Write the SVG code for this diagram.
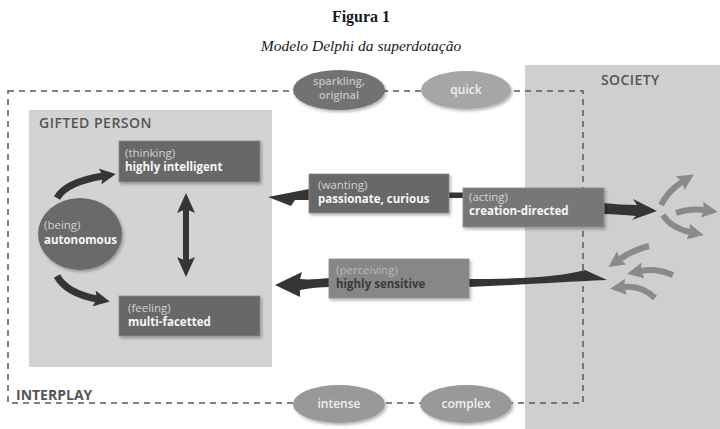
<svg xmlns="http://www.w3.org/2000/svg" width="720" height="429" viewBox="0 0 720 429">
<defs>
<style>
.ttl{font-family:"Liberation Serif",serif;fill:#1a1a1a}
.hdr{font-family:"Open Sans","DejaVu Sans",sans-serif;font-weight:600;fill:#555;font-size:14px}
.box{fill:#686868;stroke:#8c8c8c;stroke-width:0.8;filter:url(#sh)}
.p{font-family:"Open Sans","DejaVu Sans",sans-serif;font-size:11.5px;fill:#d2d2d2}
.b{font-family:"Open Sans","DejaVu Sans",sans-serif;font-size:11.5px;font-weight:700;fill:#f6f6f6}
.ell{font-family:"Open Sans","DejaVu Sans",sans-serif;font-size:12px;font-weight:600;text-anchor:middle}
.sm{font-size:11px}
.dk{fill:none;stroke:#353535;stroke-width:7}
.lt{fill:none;stroke:#8a8a8a;stroke-width:6}
</style>
<filter id="sh" x="-10%" y="-15%" width="125%" height="150%">
<feDropShadow dx="1.5" dy="2" stdDeviation="1.5" flood-color="#000" flood-opacity="0.3"/>
</filter>
<marker id="hd" viewBox="0 0 16 16" refX="3" refY="8" markerWidth="16" markerHeight="16" markerUnits="userSpaceOnUse" orient="auto">
<path d="M0,0 L16,8 L0,16 L3,8 z" fill="#353535"/>
</marker>
<marker id="hd2" viewBox="0 0 20 18" refX="4" refY="9" markerWidth="20" markerHeight="18" markerUnits="userSpaceOnUse" orient="auto-start-reverse">
<path d="M0,0 L20,9 L0,18 L4,9 z" fill="#353535"/>
</marker>
<marker id="hl" viewBox="0 0 16 16" refX="2" refY="8" markerWidth="16" markerHeight="16" markerUnits="userSpaceOnUse" orient="auto">
<path d="M0,0 L16,8 L0,16 L2,8 z" fill="#8a8a8a"/>
</marker>
</defs>
<rect width="720" height="429" fill="#ffffff"/>
<g id="title">
<text class="ttl" x="361" y="22" font-size="16" font-weight="700" text-anchor="middle">Figura 1</text>
<text class="ttl" x="361" y="51" font-size="15.5" font-style="italic" text-anchor="middle">Modelo Delphi da superdotação</text>
</g>
<g id="society">
<rect x="525" y="65" width="195" height="364" fill="#cfcfcf"/>
<text class="hdr" x="601" y="85" letter-spacing="0.4">SOCIETY</text>
</g>
<g id="gifted-person">
<rect x="29" y="110" width="243" height="257" fill="#d3d3d3"/>
<text class="hdr" x="39" y="128" letter-spacing="0.5">GIFTED PERSON</text>
</g>
<g id="interplay">
<rect x="8" y="91" width="575" height="312" fill="none" stroke="#5a5a5a" stroke-width="1.5" stroke-dasharray="6 5"/>
<text class="hdr" x="16" y="400" style="font-weight:700">INTERPLAY</text>
</g>
<g id="connectors">
<path class="dk" d="M57,198 Q66,182 103,176" marker-end="url(#hd)"/>
<path class="dk" d="M57,276 Q66,293 97,299" marker-end="url(#hd)"/>
<path class="dk" d="M186,209 L186,261" style="stroke-width:6" marker-start="url(#hd2)" marker-end="url(#hd2)"/>
<rect x="448" y="192.5" width="16" height="5.5" fill="#353535"/>
<path d="M309,189 L268,197 L291,206 L295,200 L309,200 Z" fill="#353535"/>
<path d="M603,203 C615,204 625,205 637,205 L633,199 L657,211 L632,220 L636,216 C625,215 615,214 603,214 Z" fill="#353535"/>
<path d="M468,279 C520,279 560,277 585,270 L607,280 C560,282 520,285 468,287 Z" fill="#353535"/>
<path d="M330,278 C318,279 308,280 300,279 L302,272 L275,285 L300,297 L300,290 C310,288 320,287 330,287 Z" fill="#353535"/>
<path class="lt" d="M661,205 Q668,191 682,182" marker-end="url(#hl)"/>
<path class="lt" d="M676,213 Q690,208 704,210" marker-end="url(#hl)"/>
<path class="lt" d="M663,215 Q671,228 690,232" marker-end="url(#hl)"/>
<path class="lt" d="M649,246 Q633,250 620,259" marker-end="url(#hl)"/>
<path class="lt" d="M673,275 Q656,268 641,271" marker-end="url(#hl)"/>
<path class="lt" d="M655,298 Q641,285 624,287" marker-end="url(#hl)"/>
</g>
<g id="thinking">
<rect class="box" x="119" y="141" width="141" height="41"/>
<text class="p" x="125" y="157">(thinking)</text>
<text class="b" x="125" y="171">highly intelligent</text>
</g>
<g id="being">
<ellipse cx="80" cy="234" rx="42" ry="36" fill="#6b6b6b" filter="url(#sh)"/>
<text class="p" x="44" y="229">(being)</text>
<text class="b" x="44" y="244">autonomous</text>
</g>
<g id="feeling">
<rect class="box" x="119" y="296" width="141" height="40"/>
<text class="p" x="128" y="312">(feeling)</text>
<text class="b" x="128" y="326">multi-facetted</text>
</g>
<g id="wanting">
<rect class="box" x="309" y="174" width="140" height="39"/>
<text class="p" x="318" y="189">(wanting)</text>
<text class="b" x="318" y="203">passionate, curious</text>
</g>
<g id="acting">
<rect class="box" x="463" y="188" width="141" height="39" style="fill:#777"/>
<text class="p" x="469" y="201">(acting)</text>
<text class="b" x="469" y="215">creation-directed</text>
</g>
<g id="perceiving">
<rect class="box" x="329" y="259" width="140" height="39" style="fill:#878787"/>
<text class="p" x="336" y="274" style="fill:#b9b9b9">(perceiving)</text>
<text class="b" x="336" y="288" style="fill:#3a3a3a">highly sensitive</text>
</g>
<g id="sparkling">
<ellipse cx="339" cy="90" rx="46" ry="20" fill="#727272" filter="url(#sh)"/>
<text class="ell sm" x="339" y="85" fill="#c4c4c4">sparkling,</text>
<text class="ell sm" x="339" y="99" fill="#c4c4c4">original</text>
</g>
<g id="quick">
<ellipse cx="466" cy="90" rx="45" ry="19" fill="#a6a6a6" filter="url(#sh)"/>
<text class="ell" x="466" y="94" fill="#f0f0f0">quick</text>
</g>
<g id="intense">
<ellipse cx="339" cy="404" rx="46" ry="19" fill="#999999" filter="url(#sh)"/>
<text class="ell" x="339" y="408" fill="#f0f0f0">intense</text>
</g>
<g id="complex">
<ellipse cx="466" cy="404" rx="46" ry="19" fill="#999999" filter="url(#sh)"/>
<text class="ell" x="466" y="408" fill="#f0f0f0">complex</text>
</g>
</svg>
